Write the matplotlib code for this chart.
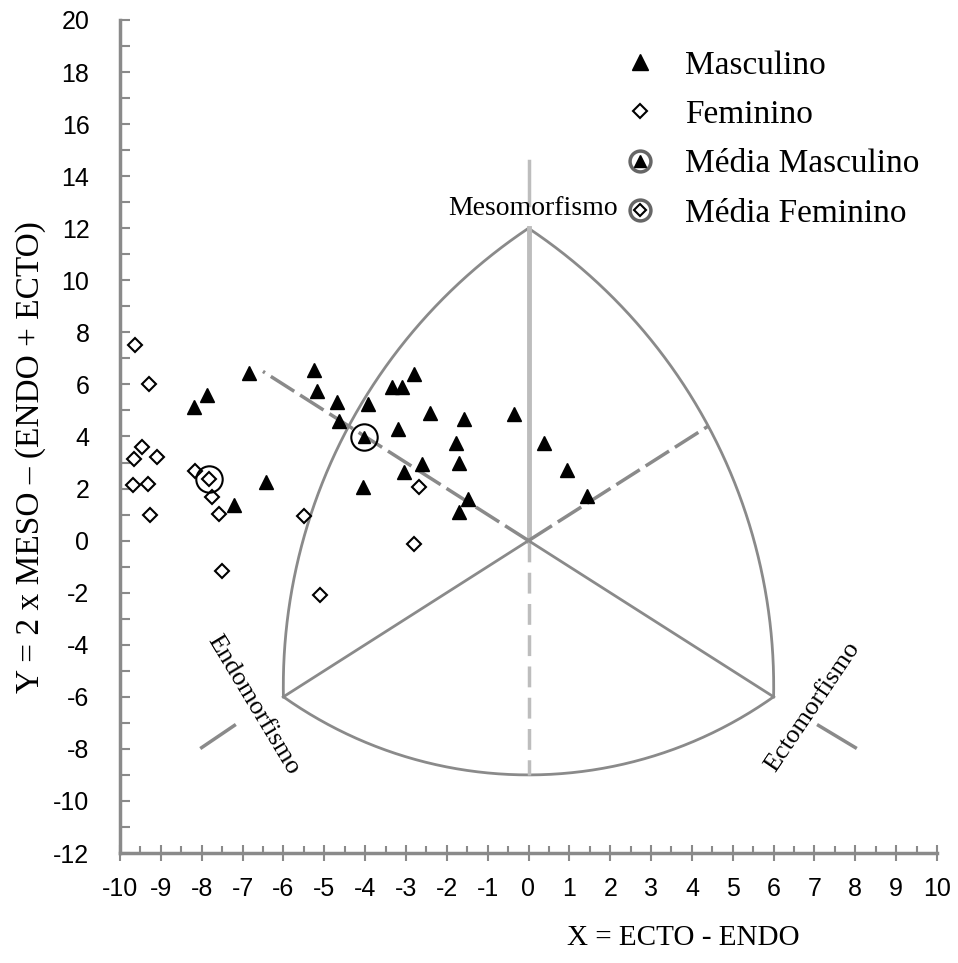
import numpy as np
import matplotlib
matplotlib.use('Agg')
import matplotlib.pyplot as plt
from matplotlib.lines import Line2D
from matplotlib.ticker import MultipleLocator

plt.rcParams['axes.unicode_minus'] = False

# somatotype points
masc_x = [-8.18, -7.87, -6.84, -7.20, -6.43, -5.26, -5.17, -4.70, -4.65, -3.94,
          -4.05, -3.33, -3.10, -2.80, -2.40, -3.19, -2.60, -3.05, -1.59, -1.78,
          -1.71, -1.47, -1.69, -0.35, 0.39, 0.95, 1.43]
masc_y = [5.14, 5.58, 6.45, 1.38, 2.24, 6.54, 5.74, 5.33, 4.59, 5.26,
          2.05, 5.90, 5.91, 6.41, 4.91, 4.30, 2.95, 2.64, 4.68, 3.76,
          2.99, 1.58, 1.09, 4.85, 3.76, 2.71, 1.73]

fem_x = [-9.63, -9.28, -9.47, -9.66, -9.09, -9.69, -9.32, -9.27, -8.17,
         -7.74, -7.57, -7.51, -5.49, -5.11, -2.69, -2.81]
fem_y = [7.50, 6.00, 3.60, 3.14, 3.22, 2.13, 2.19, 1.00, 2.69,
         1.67, 1.03, -1.15, 0.96, -2.08, 2.06, -0.12]

mean_masc = (-4.03, 3.97)
mean_fem = (-7.82, 2.35)

legend_labels = ['Masculino', 'Feminino', 'Média Masculino', 'Média Feminino']

# somatochart frame
meso = (0, 12)
endo = (-6, -6)
ecto = (6, -6)
bottom = (0, -9)

GRAY = '#8a8a8a'
LIGHT = '#bdbdbd'
SERIF = 'Liberation Serif'
SANS = 'Liberation Sans'

fig = plt.figure(figsize=(9.58, 9.63), dpi=100)
ax = fig.add_axes([120 / 958, 110 / 963, 817 / 958, 833 / 963])
ax.set_xlim(-10, 10)
ax.set_ylim(-12, 20)

# x-units vs y-units on screen
k = (817 / 20) / (833 / 32)


def arc(p1, p2, p3, n=200):
    # circle through three points, computed in screen-like coords
    x1, y1 = p1[0] * k, p1[1]
    x2, y2 = p2[0] * k, p2[1]
    x3, y3 = p3[0] * k, p3[1]
    d = 2 * (x1 * (y2 - y3) + x2 * (y3 - y1) + x3 * (y1 - y2))
    ux = ((x1**2 + y1**2) * (y2 - y3) + (x2**2 + y2**2) * (y3 - y1) + (x3**2 + y3**2) * (y1 - y2)) / d
    uy = ((x1**2 + y1**2) * (x3 - x2) + (x2**2 + y2**2) * (x1 - x3) + (x3**2 + y3**2) * (x2 - x1)) / d
    r = np.hypot(x1 - ux, y1 - uy)
    a = np.unwrap([np.arctan2(y1 - uy, x1 - ux), np.arctan2(y2 - uy, x2 - ux),
                   np.arctan2(y3 - uy, x3 - ux)])
    t = np.linspace(a[0], a[2], n)
    return (ux + r * np.cos(t)) / k, uy + r * np.sin(t)


for p1, p2, p3 in [(meso, (-4.4, 4.4), endo), (meso, (4.4, 4.4), ecto), (endo, bottom, ecto)]:
    xs, ys = arc(p1, p2, p3)
    ax.plot(xs, ys, color=GRAY, lw=2, zorder=1)

ax.plot([0, 0], [0, 12], color=LIGHT, lw=3.5, zorder=1)
ax.plot([0, 0], [0, -9], color=LIGHT, lw=2.5, ls=(0, (6, 3)), zorder=1)
ax.plot([0, 0], [12.9, 14.6], color=LIGHT, lw=2.5, zorder=1)
ax.plot([0, -6], [0, -6], color=GRAY, lw=2, zorder=1)
ax.plot([0, 6], [0, -6], color=GRAY, lw=2, zorder=1)
ax.plot([0, -6.5], [0, 6.5], color=GRAY, lw=2.5, ls=(0, (8, 2)), zorder=1)
ax.plot([0, 4.4], [0, 4.4], color=GRAY, lw=2.5, ls=(0, (8, 2)), zorder=1)
ax.plot([-7.2, -8.0], [-7.1, -7.95], color=GRAY, lw=2.5, zorder=1)
ax.plot([7.1, 8.0], [-7.1, -7.95], color=GRAY, lw=2.5, zorder=1)

ax.text(0.1, 12.75, 'Mesomorfismo', family=SERIF, fontsize=20, ha='center', va='center')
ax.text(-6.75, -6.3, 'Endomorfismo', family=SERIF, fontsize=19, ha='center', va='center',
        rotation=-59, rotation_mode='anchor')
ax.text(6.95, -6.4, 'Ectomorfismo', family=SERIF, fontsize=19, ha='center', va='center',
        rotation=56, rotation_mode='anchor')

# data
ax.plot(masc_x, masc_y, '^', color='black', ms=10, ls='none', zorder=3)
ax.plot(fem_x, fem_y, 'D', mfc='white', mec='black', mew=1.5, ms=7.5, ls='none', zorder=3)
ax.plot(*mean_masc, 'o', mfc='none', mec='black', mew=1.5, ms=19, zorder=4)
ax.plot(*mean_masc, '^', color='black', ms=8, zorder=4)
ax.plot(*mean_fem, 'o', mfc='none', mec='black', mew=1.5, ms=19, zorder=4)
ax.plot(*mean_fem, 'D', mfc='white', mec='black', mew=1.5, ms=7, zorder=4)

# axes styling
for s in ['top', 'right']:
    ax.spines[s].set_visible(False)
for s in ['left', 'bottom']:
    ax.spines[s].set_color(GRAY)
    ax.spines[s].set_linewidth(2.5)

ax.xaxis.set_major_locator(MultipleLocator(1))
ax.xaxis.set_minor_locator(MultipleLocator(0.5))
ax.yaxis.set_major_locator(MultipleLocator(2))
ax.yaxis.set_minor_locator(MultipleLocator(1))
ax.tick_params(axis='x', which='major', direction='inout', length=11, width=1.5, color=GRAY, pad=12,
               labelsize=18)
ax.tick_params(axis='x', which='minor', direction='in', length=5, width=1.5, color=GRAY)
ax.tick_params(axis='y', which='both', direction='in', length=7, width=1.5, color=GRAY, pad=22,
               labelsize=18)
for lab in ax.get_xticklabels() + ax.get_yticklabels():
    lab.set_family(SANS)

ax.set_xlabel('X = ECTO - ENDO', family=SERIF, fontsize=21)
ax.xaxis.set_label_coords(0.69, -0.086)
ax.set_ylabel('Y = 2 x MESO – (ENDO + ECTO)', family=SERIF, fontsize=24)
ax.yaxis.set_label_coords(-0.09, 0.475)

# legend
h_m = Line2D([], [], marker='^', color='black', ls='none', ms=11)
h_f = Line2D([], [], marker='D', mfc='white', mec='black', mew=1.5, ls='none', ms=7)
ring = dict(marker='o', mfc='white', mec='#666666', mew=2.5, ls='none', ms=15)
h_mm = (Line2D([], [], **ring), Line2D([], [], marker='^', color='black', ls='none', ms=8))
h_mf = (Line2D([], [], **ring), Line2D([], [], marker='D', mfc='white', mec='black', mew=1.5,
                                       ls='none', ms=6))
ax.legend([h_m, h_f, h_mm, h_mf], legend_labels, loc='upper left',
          bbox_to_anchor=(617 / 958, 1 - 50 / 963), bbox_transform=fig.transFigure,
          frameon=False, prop={'family': SERIF, 'size': 24}, handlelength=1.4,
          handletextpad=0.63, labelspacing=0.57, borderpad=0, borderaxespad=0)

fig.savefig('out.png', dpi=100)
